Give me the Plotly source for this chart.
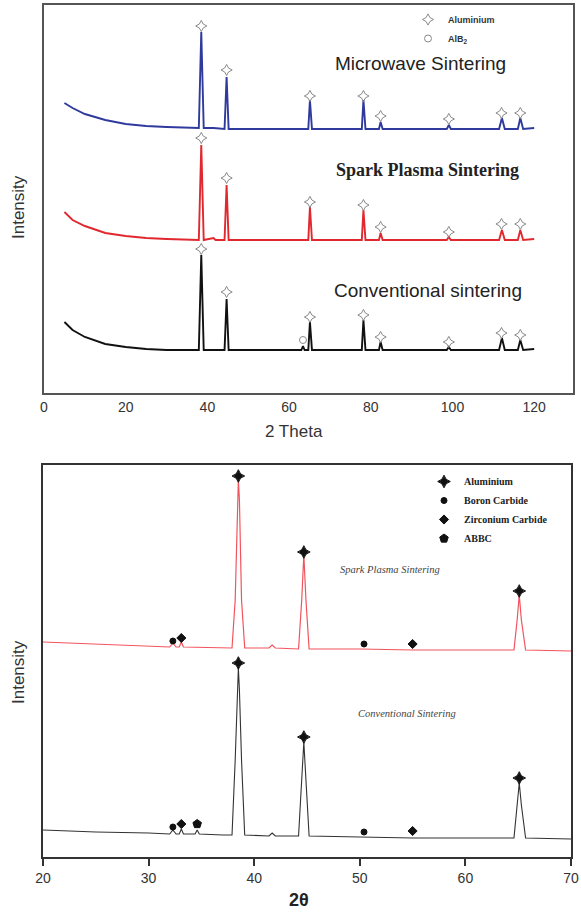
import plotly.graph_objects as go

# ================= TOP PANEL (2 Theta 0-130, intensity a.u.) =================
top_mw_2theta = [5, 7, 10, 15, 20, 25, 30, 37.9, 38.5, 39.1, 41.5, 44.2, 44.7, 45.2, 55,
                 64.7, 65.1, 65.6, 72, 77.8, 78.2, 78.7, 82.0, 82.4, 82.9, 90, 98.6, 99.1,
                 99.6, 111.4, 112.1, 112.8, 116.0, 116.6, 117.3, 120]
top_mw_int = [290, 285, 279, 273, 269, 267, 266, 265, 361, 265, 265, 264, 316, 264, 264,
              264, 293, 264, 264, 264, 293, 264, 264, 271, 264, 264, 264, 268,
              264, 264, 275, 264, 264, 275, 264, 265]

top_sps_2theta = [5, 7, 10, 15, 20, 25, 30, 37.9, 38.5, 39.1, 41.5, 42, 44.2, 44.7, 45.2,
                  64.7, 65.1, 65.6, 77.8, 78.2, 78.7, 82.0, 82.4, 82.9, 98.6, 99.1, 99.6,
                  111.4, 112.1, 112.8, 116.0, 116.6, 117.3, 120]
top_sps_int = [181, 173, 167, 160, 157, 155, 154, 153, 248, 153, 155, 153, 153, 208, 153,
               153, 186, 153, 153, 183, 153, 153, 160, 153, 153, 156, 153,
               153, 163, 153, 153, 163, 153, 154]

top_conv_2theta = [5, 7, 10, 15, 20, 25, 30, 37.9, 38.5, 39.1, 44.2, 44.7, 45.2, 63.0, 63.4,
                   63.8, 64.7, 65.1, 65.6, 77.8, 78.2, 78.7, 82.0, 82.4, 82.9, 98.6, 99.1,
                   99.6, 111.4, 112.1, 112.8, 116.0, 116.6, 117.3, 120]
top_conv_int = [71, 63, 56, 49, 46, 44, 43, 43, 138, 43, 43, 94, 43, 43, 47,
                43, 43, 71, 43, 43, 73, 43, 43, 51, 43, 43, 46,
                43, 43, 55, 43, 43, 53, 43, 44]

# Aluminium reflections (marker positions) for each pattern
top_al_2theta = [38.5, 44.7, 65.1, 78.2, 82.4, 99.1, 112.0, 116.6]
top_al_mw_int = [367, 323, 297, 297, 277, 274, 280, 280]
top_al_sps_int = [255, 215, 191, 188, 166, 161, 169, 169]
top_al_conv_int = [144, 101, 76, 78, 56, 51, 60, 58]
top_alb2_2theta = [63.4]
top_alb2_conv_int = [53]

top_xticks = [0, 20, 40, 60, 80, 100, 120]

# ================= BOTTOM PANEL (2 theta 20-70) =================
bot_sps_2theta = [20, 25, 30, 32.0, 32.3, 32.6, 32.9, 33.1, 33.3, 36, 37.9, 38.2, 38.4, 38.5,
                  38.6, 38.8, 39.1, 41.4, 41.7, 42.0, 44.2, 44.5, 44.7, 44.9, 45.2, 50, 55,
                  60, 64.6, 64.9, 65.1, 65.3, 65.7, 70]
bot_sps_int = [215, 213, 211, 210, 214, 210, 210, 215, 210, 209, 209, 257, 357, 377,
               357, 257, 209, 209, 212, 209, 208, 257, 302, 257, 208, 208, 207,
               207, 207, 237, 262, 237, 207, 206]

bot_conv_2theta = [20, 25, 30, 32.0, 32.3, 32.6, 32.9, 33.1, 33.3, 34.4, 34.6, 34.8, 37.0,
                   37.9, 38.2, 38.4, 38.5, 38.6, 38.8, 39.1, 41.4, 41.7, 42.0, 44.2, 44.5,
                   44.7, 44.9, 45.2, 50, 55, 60, 64.6, 64.9, 65.1, 65.3, 65.7, 70]
bot_conv_int = [27, 25, 24, 23, 27, 23, 23, 28, 23, 23, 27, 23, 22,
                22, 97, 167, 189, 167, 97, 22, 21, 24, 21, 21, 77,
                115, 77, 21, 20, 19, 19, 19, 52, 74, 52, 19, 18]

bot_al_2theta = [38.5, 44.7, 65.1]
bot_al_sps_int = [381, 305, 266]
bot_al_conv_int = [194, 120, 79]
bot_b4c_2theta = [32.3, 50.4]
bot_b4c_sps_int = [216, 213]
bot_b4c_conv_int = [30, 25]
bot_zrc_2theta = [33.1, 55.0]
bot_zrc_sps_int = [219, 213]
bot_zrc_conv_int = [33, 26]
bot_abbc_2theta = [34.6]
bot_abbc_conv_int = [33]

bot_xticks = [20, 30, 40, 50, 60, 70]

# ================= FIGURE =================
W, H = 581, 913
fig = go.Figure()

def line(x, y, color, width, xa, ya):
    fig.add_trace(go.Scatter(x=x, y=y, mode="lines", line=dict(color=color, width=width),
                             xaxis=xa, yaxis=ya, showlegend=False, hoverinfo="skip"))

def marks(x, y, symbol, size, color, xa, ya, name=None, legend="legend", show=False,
          lw=1, lcolor=None):
    fig.add_trace(go.Scatter(x=x, y=y, mode="markers", name=name,
                             marker=dict(symbol=symbol, size=size, color=color,
                                         line=dict(width=lw, color=lcolor or color)),
                             xaxis=xa, yaxis=ya, showlegend=show, legend=legend,
                             hoverinfo="skip"))

# top panel curves
line(top_mw_2theta, top_mw_int, "#2f3a9c", 1.9, "x", "y")
line(top_sps_2theta, top_sps_int, "#e0282e", 1.9, "x", "y")
line(top_conv_2theta, top_conv_int, "#111111", 1.9, "x", "y")
gray = "#8a8a8a"
marks(top_al_2theta, top_al_mw_int, "star-diamond-open", 8, gray, "x", "y",
      name="Aluminium", legend="legend", show=True)
marks(top_al_2theta, top_al_sps_int, "star-diamond-open", 8, gray, "x", "y")
marks(top_al_2theta, top_al_conv_int, "star-diamond-open", 8, gray, "x", "y")
marks(top_alb2_2theta, top_alb2_conv_int, "circle-open", 7, gray, "x", "y",
      name="AlB<sub>2</sub>", legend="legend", show=True)

# bottom panel curves
line(bot_sps_2theta, bot_sps_int, "#f2545e", 1.2, "x2", "y2")
line(bot_conv_2theta, bot_conv_int, "#333333", 1.1, "x2", "y2")
blk = "#111111"
marks(bot_al_2theta, bot_al_conv_int, "star-diamond", 9, blk, "x2", "y2",
      name="Aluminium", legend="legend2", show=True)
marks(bot_b4c_2theta, bot_b4c_conv_int, "circle", 6, blk, "x2", "y2",
      name="Boron Carbide", legend="legend2", show=True)
marks(bot_zrc_2theta, bot_zrc_conv_int, "diamond", 7, blk, "x2", "y2",
      name="Zirconium Carbide", legend="legend2", show=True)
marks(bot_abbc_2theta, bot_abbc_conv_int, "pentagon", 9, blk, "x2", "y2",
      name="ABBC", legend="legend2", show=True)
marks(bot_al_2theta, bot_al_sps_int, "star-diamond", 9, blk, "x2", "y2")
marks(bot_b4c_2theta, bot_b4c_sps_int, "circle", 6, blk, "x2", "y2")
marks(bot_zrc_2theta, bot_zrc_sps_int, "diamond", 7, blk, "x2", "y2")

def px(v):
    return v / W

def py(v):
    return 1 - v / H

sans = "Liberation Sans, Arial, sans-serif"
serif = "Liberation Serif, Times New Roman, serif"

def label(text, x, y, family, size, color, angle=0):
    return dict(text=text, x=px(x), y=py(y), xref="paper", yref="paper",
                xanchor="center", yanchor="middle", textangle=angle, showarrow=False,
                font=dict(family=family, size=size, color=color))

fig.update_layout(
    width=W, height=H, margin=dict(l=0, r=0, t=0, b=0, autoexpand=False),
    paper_bgcolor="white", plot_bgcolor="white",
    xaxis=dict(domain=[px(44), px(573)], range=[0, 129.5], tickvals=top_xticks,
               showgrid=False, zeroline=False, showline=True, mirror=True,
               linecolor="#555555", linewidth=2, ticks="", ticklabelstandoff=0,
               tickfont=dict(family=sans, size=14, color="#333333"), anchor="y"),
    yaxis=dict(domain=[py(393), py(5)], range=[0, 388], showticklabels=False,
               showgrid=False, zeroline=False, showline=True, mirror=True,
               linecolor="#555555", linewidth=2, ticks="", anchor="x"),
    xaxis2=dict(domain=[px(43), px(571)], range=[20, 70], tickvals=bot_xticks,
                showgrid=False, zeroline=False, showline=True, mirror=True,
                linecolor="#333333", linewidth=1.5, ticks="outside", ticklen=7,
                tickwidth=1.5, tickcolor="#333333", ticklabelstandoff=0,
                tickfont=dict(family=sans, size=14, color="#333333"), anchor="y2"),
    yaxis2=dict(domain=[py(857), py(465)], range=[0, 392], showticklabels=False,
                showgrid=False, zeroline=False, showline=True, mirror=True,
                linecolor="#333333", linewidth=1.5, ticks="", anchor="x2"),
    legend=dict(x=px(408), y=py(5), xanchor="left", yanchor="top",
                bgcolor="rgba(0,0,0,0)", tracegroupgap=0,
                font=dict(family=sans, size=9, color="#333333", weight="bold")),
    legend2=dict(x=px(424), y=py(467), xanchor="left", yanchor="top",
                 bgcolor="rgba(0,0,0,0)", tracegroupgap=0,
                 font=dict(family=serif, size=10, color="#222222", weight="bold")),
    annotations=[
        label("Microwave Sintering", 420, 63, sans, 19, "#222222"),
        label("<b>Spark Plasma Sintering</b>", 427, 170, serif, 18, "#222222"),
        label("Conventional sintering", 428, 290, sans, 19, "#222222"),
        label("<i>Spark Plasma Sintering</i>", 390, 569, serif, 10.5, "#444444"),
        label("<i>Conventional Sintering</i>", 407, 713, serif, 10.5, "#444444"),
        label("2 Theta", 294, 432, sans, 17, "#333333"),
        label("<b>2θ</b>", 299, 900, sans, 18, "#222222"),
        label("Intensity", 18, 207, sans, 17, "#333333", -90),
        label("Intensity", 18, 672, sans, 17, "#333333", -90),
    ],
)

fig.write_html("out.html", config={"displayModeBar": False},
               post_script="document.body.style.margin='0';")
